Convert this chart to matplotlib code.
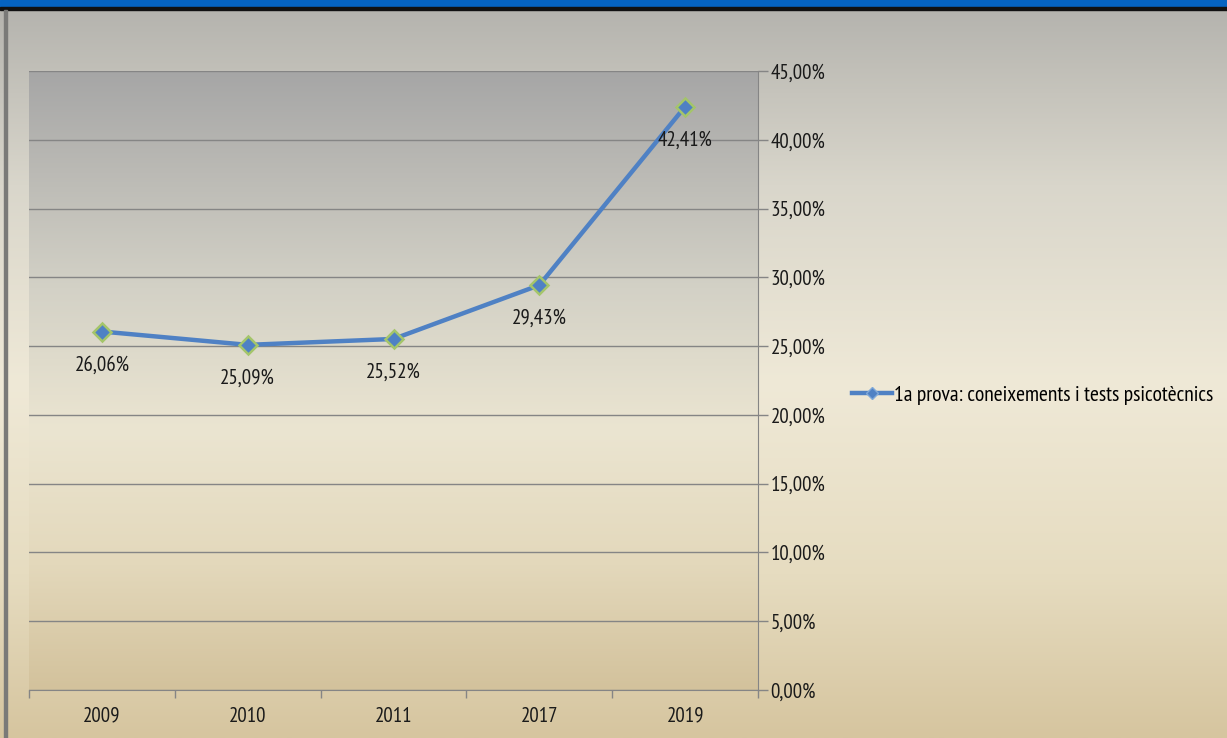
import numpy as np
import matplotlib
matplotlib.use("Agg")
import matplotlib.pyplot as plt
from matplotlib.colors import LinearSegmentedColormap
from matplotlib.ticker import FuncFormatter, MultipleLocator
from matplotlib.patches import Rectangle
from matplotlib.lines import Line2D

years = ["2009", "2010", "2011", "2017", "2019"]
values = [26.06, 25.09, 25.52, 29.43, 42.41]
series_name = "1a prova: coneixements i tests psicotècnics"

FONT = ["PT Sans Narrow", "Fira Sans Condensed", "Carlito", "DejaVu Sans"]
plt.rcParams["font.family"] = FONT
FS = 15

W, H = 1227, 738
fig = plt.figure(figsize=(W / 100, H / 100), dpi=100)

# figure background gradient (bottom -> top)
bg = fig.add_axes([0, 0, 1, 1], zorder=-10)
bg.set_axis_off()
fig_cmap = LinearSegmentedColormap.from_list(
    "figbg",
    [(0.0, "#d6c59f"), (0.22, "#e6dcc0"), (0.48, "#efe9d7"), (0.75, "#d9d6cb"), (1.0, "#b3b2ad")],
)
grad = np.linspace(0, 1, 256).reshape(-1, 1)
bg.imshow(grad, aspect="auto", cmap=fig_cmap, origin="lower", extent=[0, 1, 0, 1])
bg.set_xlim(0, 1)
bg.set_ylim(0, 1)
# top bar and left border
bg.add_patch(Rectangle((0, 1 - 7 / H), 1, 7 / H, color="#0563c1", transform=bg.transAxes, zorder=2))
bg.add_patch(Rectangle((0, 1 - 10 / H), 1, 3 / H, color="#111111", transform=bg.transAxes, zorder=2))
bg.add_patch(Rectangle((4 / W, 0), 3 / W, 1 - 10 / H, color="#7a7a78", transform=bg.transAxes, zorder=2))

x0, x1 = 29 / W, 758 / W
y0, y1 = (H - 690) / H, (H - 71) / H
ax = fig.add_axes([x0, y0, x1 - x0, y1 - y0])

plot_cmap = LinearSegmentedColormap.from_list(
    "plotbg",
    [(0.0, "#d3c29c"), (0.2, "#e3d8bb"), (0.42, "#ebe5d1"), (0.65, "#d3d1c6"), (1.0, "#a6a6a6")],
)
xs = np.arange(len(years))
ax.set_xlim(-0.5, len(years) - 0.5)
ax.set_ylim(0, 45)
ax.imshow(grad, aspect="auto", cmap=plot_cmap, origin="lower",
          extent=[-0.5, len(years) - 0.5, 0, 45], zorder=0)

ax.yaxis.set_major_locator(MultipleLocator(5))
ax.grid(axis="y", color="#858585", linewidth=1.0, zorder=1)
ax.yaxis.tick_right()
ax.yaxis.set_major_formatter(FuncFormatter(lambda v, p: f"{v:.2f}".replace(".", ",") + "%"))
ax.tick_params(axis="y", length=7, width=1, color="#858585", labelsize=FS, pad=2, labelcolor="#1a1a1a")

ax.set_xticks(xs)
ax.set_xticklabels(years)
ax.set_xticks(np.arange(-0.5, len(years), 1), minor=True)
ax.tick_params(axis="x", which="major", length=0, labelsize=FS, pad=12, labelcolor="#1a1a1a")
ax.tick_params(axis="x", which="minor", length=6, width=1, color="#858585")

for side in ["top", "left"]:
    ax.spines[side].set_visible(False)
ax.spines["right"].set_color("#858585")
ax.spines["bottom"].set_color("#858585")

line_kw = dict(color="#4f81c4", linewidth=3.2, marker="D", markersize=9,
               markerfacecolor="#4f81c4", markeredgecolor="#a4c56a", markeredgewidth=1.8)
ax.plot(xs, values, zorder=3, **line_kw)

for x, v in zip(xs, values):
    ax.annotate(f"{v:.2f}".replace(".", ",") + "%", (x, v), xytext=(0, -24),
                textcoords="offset points", ha="center", va="center",
                fontsize=FS, color="#1a1a1a", zorder=4)

handle = Line2D([], [], color="#4f81c4", linewidth=3.2, marker="D", markersize=6,
                markerfacecolor="#4f81c4", markeredgecolor="#7fa8d8", markeredgewidth=1.0)
fig.legend([handle], [series_name], loc="center left",
           bbox_to_anchor=(841 / W, 1 - 395 / H), frameon=False,
           fontsize=15.5, handlelength=1.85, handletextpad=0.12, borderpad=0)

fig.savefig("out.png", dpi=100)
